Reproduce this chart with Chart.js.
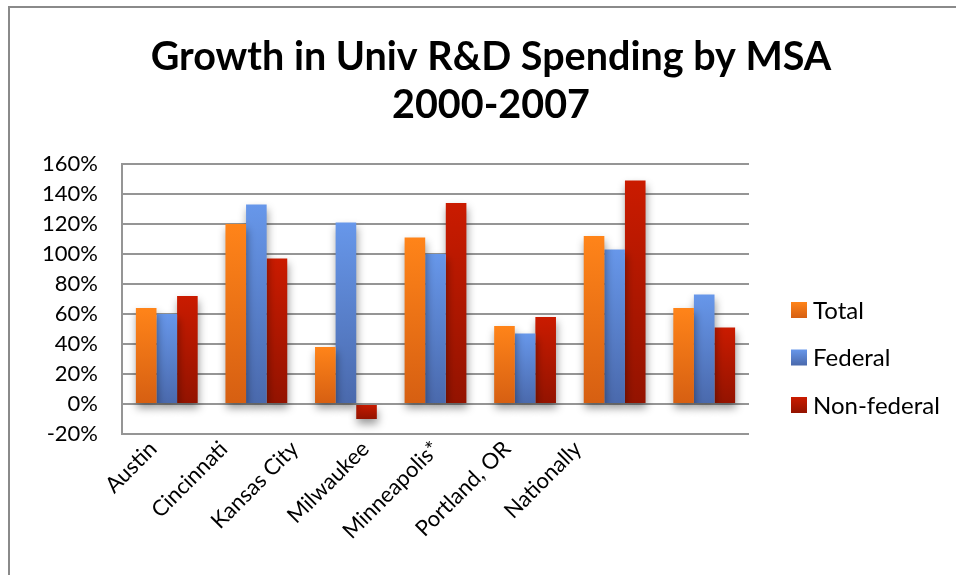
<!DOCTYPE html>
<html>
<head>
<meta charset="utf-8">
<script src="https://cdn.jsdelivr.net/npm/chart.js@4"></script>
<style>
  html, body { margin: 0; padding: 0; background: #fff; overflow: hidden; }
  #frame { position: absolute; left: 8px; top: 6px; width: 1000px; height: 620px; border: 2px solid #8a8a8a; }
  #wrap { position: absolute; left: 0; top: 0; width: 956px; height: 575px; }
</style>
</head>
<body>
<div id="frame"></div>
<div id="wrap"><canvas id="rdChart" width="956" height="575"></canvas></div>
<script>
const cities = ["Austin", "Cincinnati", "Kansas City", "Milwaukee", "Minneapolis*", "Portland, OR", "Nationally"];
const total = [64, 120, 38, 111, 52, 112, 64];
const federal = [60, 133, 121, 100, 47, 103, 73];
const nonFederal = [72, 97, -10, 134, 58, 149, 51];
const yTicks = [-20, 0, 20, 40, 60, 80, 100, 120, 140, 160];

// top / bottom colours of each bar gradient
const palette = {
    total: ["#FF8419", "#D65F12"],
    federal: ["#6797EA", "#4A69AC"],
    nonFederal: ["#CA1B00", "#931300"],
};

function barGradient(colors) {
    return (ctx) => {
        const chart = ctx.chart;
        const y = chart.scales.y;
        if (!chart.chartArea || ctx.raw === undefined || !y) return colors[0];
        const top = y.getPixelForValue(Math.max(ctx.raw, 0));
        const bottom = y.getPixelForValue(Math.min(ctx.raw, 0));
        if (!isFinite(top) || !isFinite(bottom) || top === bottom) return colors[0];
        const g = chart.ctx.createLinearGradient(0, top, 0, bottom);
        g.addColorStop(0, colors[0]);
        g.addColorStop(1, colors[1]);
        return g;
    };
}

const barShadow = {
    id: "barShadow",
    beforeDatasetsDraw(chart) {
        const c = chart.ctx;
        c.save();
        c.shadowColor = "rgba(0,0,0,0.4)";
        c.shadowBlur = 8;
        c.shadowOffsetX = 1;
        c.shadowOffsetY = 5;
    },
    afterDatasetsDraw(chart) {
        chart.ctx.restore();
    },
};

// legend drawn at the right, like the spreadsheet one
const sideLegend = {
    id: "sideLegend",
    afterDraw(chart) {
        const c = chart.ctx;
        const x = 791, y0 = 310, step = 47.5, box = 16;
        c.save();
        c.font = "24px Lato";
        c.textBaseline = "middle";
        chart.data.datasets.forEach((ds, i) => {
            const y = y0 + i * step;
            const g = c.createLinearGradient(0, y - box / 2, 0, y + box / 2);
            g.addColorStop(0, ds.legendColors[0]);
            g.addColorStop(1, ds.legendColors[1]);
            c.fillStyle = g;
            c.fillRect(x, y - box / 2, box, box);
            c.fillStyle = "#000";
            c.fillText(ds.label, x + box + 6, y + 1);
        });
        c.restore();
    },
};

const data = {
    labels: cities,
    datasets: [
        { label: "Total", data: total, backgroundColor: barGradient(palette.total), legendColors: palette.total },
        { label: "Federal", data: federal, backgroundColor: barGradient(palette.federal), legendColors: palette.federal },
        { label: "Non-federal", data: nonFederal, backgroundColor: barGradient(palette.nonFederal), legendColors: palette.nonFederal },
    ],
};

const config = {
    type: "bar",
    data: data,
    options: {
        responsive: false,
        animation: false,
        layout: { padding: { left: 26, right: 0, top: 0, bottom: 0 } },
        datasets: {
            bar: { categoryPercentage: 0.69, barPercentage: 1.0, borderWidth: 0 },
        },
        plugins: {
            legend: { display: false },
            tooltip: { enabled: false },
            title: {
                display: true,
                text: ["Growth in Univ R&D Spending by MSA", "2000-2007"],
                color: "#000000",
                font: { family: "Lato", size: 39.5, weight: "bold", lineHeight: 1.215 },
                padding: { top: 33, bottom: 35 },
            },
        },
        scales: {
            x: { display: false },
            // labels only, spaced like the original sheet
            x2: {
                type: "linear",
                position: "bottom",
                bounds: "data",
                offset: false,
                min: -0.44,
                max: 8.42,
                grid: { display: false },
                border: { display: false },
                afterBuildTicks: (scale) => {
                    scale.ticks = cities.map((_, i) => ({ value: i }));
                },
                afterFit: (scale) => { scale.height = 141; },
                ticks: {
                    autoSkip: false,
                    minRotation: 45,
                    maxRotation: 45,
                    padding: -6,
                    color: "#000",
                    font: { family: "Lato", size: 22 },
                    callback: (v) => cities[v] ?? "",
                },
            },
            y: {
                min: -20,
                max: 160,
                afterBuildTicks: (scale) => {
                    scale.ticks = yTicks.map((v) => ({ value: v }));
                },
                afterFit: (scale) => { scale.width = 96; },
                grid: { color: "#959595", lineWidth: 2, drawTicks: false },
                border: { display: true, color: "#959595", width: 2 },
                ticks: {
                    padding: 24,
                    color: "#000",
                    font: { family: "Lato", size: 22 },
                    callback: (v) => v + "%",
                },
            },
            // empty axis that keeps room for the legend
            yR: {
                type: "linear",
                position: "right",
                grid: { display: false },
                border: { display: false },
                ticks: { display: false },
                afterFit: (scale) => { scale.width = 207; },
            },
        },
    },
    plugins: [barShadow, sideLegend],
};

new Chart(document.getElementById("rdChart"), config);
</script>
</body>
</html>
